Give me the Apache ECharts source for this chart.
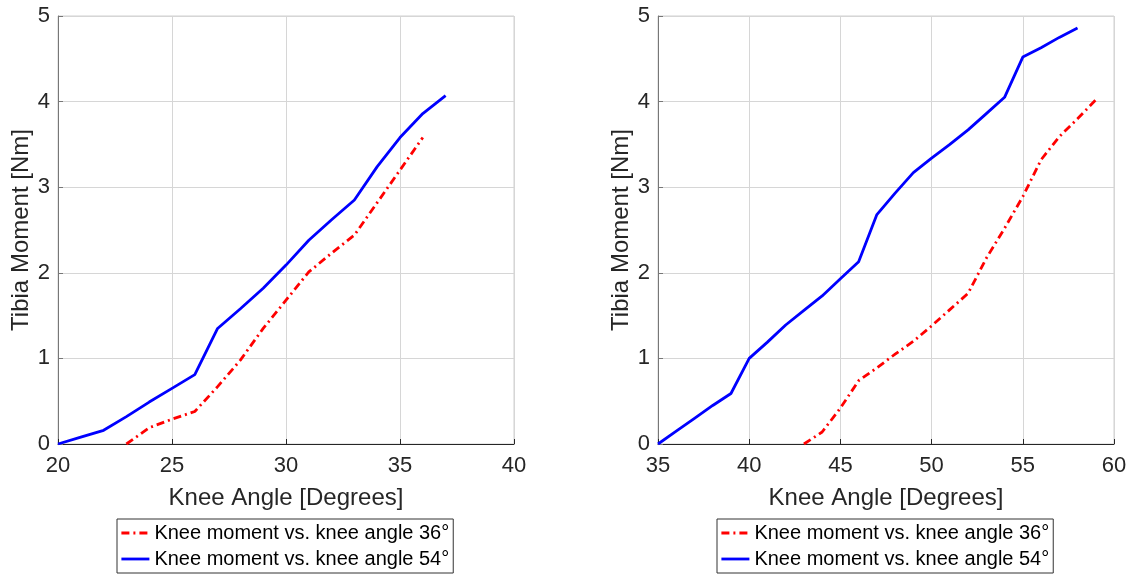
<!DOCTYPE html>
<html>
<head>
<meta charset="utf-8">
<script src="https://cdn.jsdelivr.net/npm/echarts@6/dist/echarts.min.js"></script>
<style>
html,body{margin:0;padding:0;background:#fff;}
#chart{width:1139px;height:576px;}
</style>
</head>
<body>
<div id="chart"></div>
<script>
// ---- data ----
const seriesNames = ['Knee moment vs. knee angle 36°', 'Knee moment vs. knee angle 54°'];
const xTitle = 'Knee Angle [Degrees]';
const yTitle = 'Tibia Moment [Nm]';

// left panel
const leftX36 = [23, 24, 25, 26, 27, 28, 29, 30, 31, 32, 33, 34, 35, 36];
const leftY36 = [0, 0.19, 0.29, 0.38, 0.67, 0.98, 1.35, 1.68, 2.01, 2.23, 2.44, 2.82, 3.2, 3.58];
const leftX54 = [20, 21, 22, 23, 24, 25, 26, 27, 28, 29, 30, 31, 32, 33, 34, 35, 36, 37];
const leftY54 = [0, 0.08, 0.16, 0.32, 0.49, 0.65, 0.81, 1.35, 1.58, 1.82, 2.09, 2.38, 2.62, 2.85, 3.24, 3.58, 3.86, 4.07];

// right panel
const rightX36 = [43, 44, 45, 46, 47, 48, 49, 50, 51, 52, 53, 54, 55, 56, 57, 58, 59];
const rightY36 = [0, 0.14, 0.42, 0.74, 0.89, 1.05, 1.2, 1.38, 1.57, 1.76, 2.17, 2.52, 2.89, 3.32, 3.59, 3.8, 4.02];
const rightX54 = [35, 36, 37, 38, 39, 40, 41, 42, 43, 44, 45, 46, 47, 48, 49, 50, 51, 52, 53, 54, 55, 56, 57, 58];
const rightY54 = [0, 0.15, 0.3, 0.45, 0.59, 1.0, 1.19, 1.39, 1.56, 1.73, 1.93, 2.13, 2.68, 2.93, 3.17, 3.34, 3.5, 3.67, 3.86, 4.05, 4.52, 4.63, 4.75, 4.86];

// axis ranges
const leftXRange = [20, 40, 5];
const rightXRange = [35, 60, 5];
const yRange = [0, 5, 1];

// ---- build ----
const pairs = (xs, ys) => xs.map((x, i) => [x, ys[i]]);
const FONT = "'Liberation Sans', Arial, Helvetica, sans-serif";
const DARK = '#262626';

function xAxisCfg(gridIndex, r) {
  return {
    type: 'value', gridIndex, min: r[0], max: r[1], interval: r[2],
    name: xTitle, nameLocation: 'middle', nameGap: 42,
    nameTextStyle: { fontFamily: FONT, fontSize: 24, color: DARK },
    axisLine: { show: true, onZero: false, lineStyle: { color: DARK, width: 1 } },
    axisTick: { show: true, inside: true, length: 5, lineStyle: { color: DARK } },
    axisLabel: { fontFamily: FONT, fontSize: 22, color: DARK, margin: 11 },
    splitLine: { show: true, lineStyle: { color: '#d6d6d6', width: 1 } }
  };
}
function yAxisCfg(gridIndex) {
  return {
    type: 'value', gridIndex, min: yRange[0], max: yRange[1], interval: yRange[2],
    name: yTitle, nameLocation: 'middle', nameGap: 24, nameRotate: 90,
    nameTextStyle: { fontFamily: FONT, fontSize: 24, color: DARK },
    axisLine: { show: true, onZero: false, lineStyle: { color: '#777777', width: 1 } },
    axisTick: { show: true, inside: true, length: 5, lineStyle: { color: '#777777' } },
    axisLabel: { fontFamily: FONT, fontSize: 22, color: DARK, margin: 8, padding: [0, 0, 3, 0] },
    splitLine: { show: true, lineStyle: { color: '#d6d6d6', width: 1 } }
  };
}
function lineSeries(name, xi, data, color, dash) {
  return {
    name, type: 'line', xAxisIndex: xi, yAxisIndex: xi, data,
    symbol: 'none', showSymbol: false,
    lineStyle: { color, width: 2.8, type: dash },
    itemStyle: { color },
    emphasis: { disabled: true }
  };
}
function legendCfg(left) {
  return {
    data: seriesNames, orient: 'vertical', left, top: 519,
    itemWidth: 28, itemHeight: 14, itemGap: 6,
    padding: [4, 4, 4, 3],
    borderColor: '#333', borderWidth: 1, backgroundColor: '#fff',
    itemStyle: { opacity: 0 },
    lineStyle: { width: 2.8 },
    textStyle: { fontFamily: FONT, fontSize: 20, color: '#000' },
    selectedMode: false
  };
}
const DASHDOT = [8, 4, 2, 4];

const option = {
  animation: false,
  backgroundColor: '#ffffff',
  grid: [
    { left: 58, top: 16, width: 456, height: 428, show: true, borderColor: '#d0d0d0', borderWidth: 1, containLabel: false },
    { left: 658, top: 16, width: 456, height: 428, show: true, borderColor: '#d0d0d0', borderWidth: 1, containLabel: false }
  ],
  xAxis: [xAxisCfg(0, leftXRange), xAxisCfg(1, rightXRange)],
  yAxis: [yAxisCfg(0), yAxisCfg(1)],
  legend: [legendCfg(117), legendCfg(717)],
  series: [
    lineSeries(seriesNames[0], 0, pairs(leftX36, leftY36), '#ff0000', DASHDOT),
    lineSeries(seriesNames[1], 0, pairs(leftX54, leftY54), '#0000ff', 'solid'),
    lineSeries(seriesNames[0], 1, pairs(rightX36, rightY36), '#ff0000', DASHDOT),
    lineSeries(seriesNames[1], 1, pairs(rightX54, rightY54), '#0000ff', 'solid')
  ]
};
const chart = echarts.init(document.getElementById('chart'), null, { renderer: 'canvas' });
chart.setOption(option);
</script>
</body>
</html>
